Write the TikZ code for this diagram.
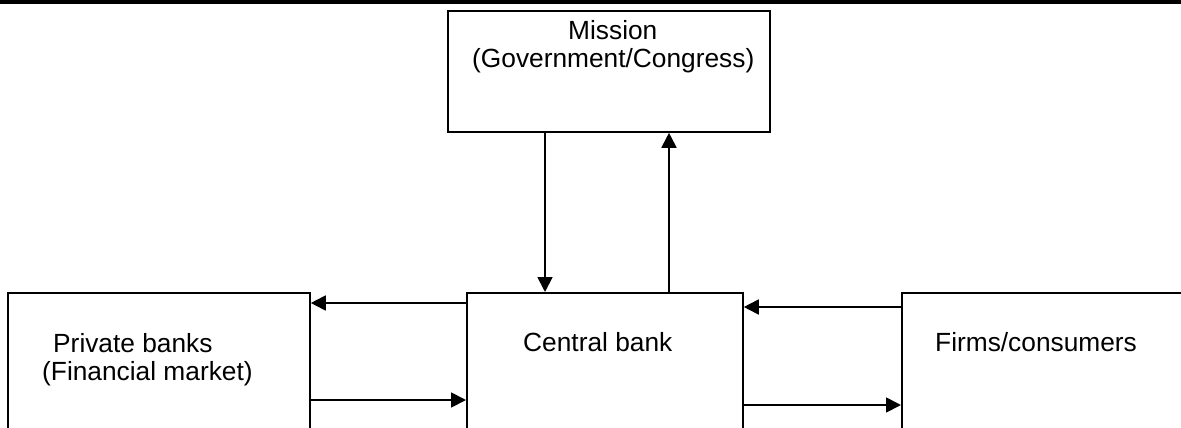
\documentclass[tikz,border=0pt]{standalone}
\usepackage{fontspec}
\setmainfont{Liberation Sans}
\usetikzlibrary{arrows.meta}
\begin{document}
\begin{tikzpicture}[x=1pt,y=-1pt,
  box/.style={draw=black,line width=1.8pt,rectangle,inner sep=0pt,anchor=north west},
  lbl/.style={inner sep=0pt,anchor=base west,font=\fontsize{26.3}{31}\selectfont},
  arr/.style={line width=1.8pt,-{Triangle[length=15pt,width=15pt]}},
  rule/.style={fill=black}]
  \useasboundingbox (0,0) rectangle (1181,428);
  \clip (0,0) rectangle (1181,428);
  % heading rule
  \fill[rule] (0,0) rectangle (1181,4);
  % boxes
  \node[box,minimum width=322pt,minimum height=121pt] (mission) at (447,10) {};
  \node[box,minimum width=302pt,minimum height=170pt] (private) at (7,292) {};
  \node[box,minimum width=276pt,minimum height=170pt] (central) at (466,292) {};
  \node[box,minimum width=320pt,minimum height=170pt] (firms) at (901,292) {};
  % labels
  \node[lbl] (mission1) at (568,40) {Mission};
  \node[lbl] (mission2) at (472,67) {(Government/Congress)};
  \node[lbl] (private1) at (53,352) {Private banks};
  \node[lbl] (private2) at (42,380) {(Financial market)};
  \node[lbl] (central1) at (523,351) {Central bank};
  \node[lbl] (firms1) at (935,351) {Firms/consumers};
  % connectors
  \draw[arr] ([xshift=98pt]mission.south west) -- ([xshift=79pt]central.north west);
  \draw[arr] ([xshift=203pt]central.north west) -- ([xshift=222pt]mission.south west);
  \draw[arr] ([yshift=-11pt]central.north west) -- ([yshift=-11pt]private.north east);
  \draw[arr] ([yshift=-108pt]private.north east) -- ([yshift=-108pt]central.north west);
  \draw[arr] ([yshift=-15pt]firms.north west) -- ([yshift=-15pt]central.north east);
  \draw[arr] ([yshift=-113pt]central.north east) -- ([yshift=-113pt]firms.north west);
\end{tikzpicture}
\end{document}
